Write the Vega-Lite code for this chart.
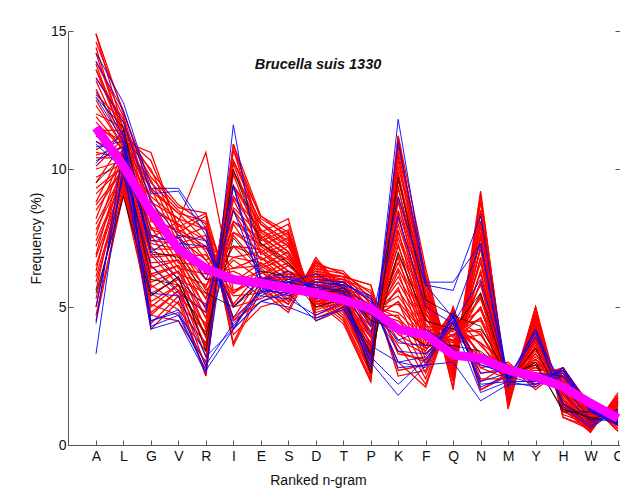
{
  "$schema": "https://vega.github.io/schema/vega-lite/v6.json",
  "width": 552,
  "height": 414,
  "autosize": "none",
  "padding": {"left": 68, "top": 31, "right": 0, "bottom": 44},
  "background": "white",
  "title": {"text": "Brucella suis 1330", "font": "Liberation Sans", "fontSize": 14.5, "fontStyle": "italic", "fontWeight": "bold", "color": "#111", "offset": -48, "dx": -26},
  "config": {
    "view": {"stroke": null},
    "axis": {"labelFont": "Liberation Sans", "titleFont": "Liberation Sans", "labelFontSize": 14, "titleFontSize": 14, "titleFontWeight": "normal", "labelColor": "#111", "titleColor": "#111", "domainColor": "#555", "tickColor": "#555", "grid": false}
  },
  "data": {"values": [
    {"id":"r0a","g":"red","A":14.9,"L":12.0,"G":9.5,"V":8.5,"R":7.8,"I":4.0,"E":5.0,"S":5.3,"D":6.2,"T":6.1,"P":5.8,"K":2.5,"F":2.7,"Q":4.7,"N":2.3,"M":2.9,"Y":2.0,"H":2.8,"W":1.4,"C":0.7},
    {"id":"r0b","g":"red","A":14.2,"L":11.2,"G":10.3,"V":7.9,"R":8.4,"I":3.6,"E":5.6,"S":4.8,"D":6.7,"T":5.7,"P":5.3,"K":3.0,"F":2.1,"Q":5.0,"N":2.0,"M":2.6,"Y":2.3,"H":2.6,"W":1.5,"C":0.5},
    {"id":"r0c","g":"red","A":13.6,"L":11.5,"G":9.9,"V":8.7,"R":8.0,"I":4.5,"E":5.6,"S":5.1,"D":6.6,"T":6.2,"P":5.5,"K":3.4,"F":3.0,"Q":4.9,"N":2.6,"M":2.8,"Y":2.2,"H":2.7,"W":1.45,"C":0.6},
    {"id":"r1a","g":"red","A":14.6,"L":12.1,"G":9.2,"V":8.4,"R":7.4,"I":4.5,"E":5.2,"S":5.6,"D":6.1,"T":6.1,"P":5.8,"K":2.7,"F":2.9,"Q":4.5,"N":2.8,"M":3.0,"Y":2.1,"H":2.8,"W":1.3,"C":0.8},
    {"id":"r1b","g":"red","A":13.6,"L":11.1,"G":10.0,"V":7.7,"R":8.3,"I":3.7,"E":5.8,"S":4.9,"D":6.8,"T":5.6,"P":5.1,"K":3.6,"F":2.2,"Q":5.0,"N":2.0,"M":2.5,"Y":2.6,"H":2.5,"W":1.5,"C":0.5},
    {"id":"r1c","g":"red","A":14.9,"L":11.4,"G":9.7,"V":8.6,"R":8.4,"I":5.0,"E":6.0,"S":5.3,"D":6.5,"T":6.3,"P":5.3,"K":4.0,"F":3.4,"Q":4.9,"N":3.1,"M":2.7,"Y":2.5,"H":2.8,"W":1.4,"C":0.7},
    {"id":"r2a","g":"red","A":13.9,"L":11.9,"G":8.8,"V":8.2,"R":7.0,"I":5.0,"E":5.3,"S":5.8,"D":6.0,"T":6.0,"P":5.6,"K":3.3,"F":3.1,"Q":4.4,"N":3.3,"M":2.9,"Y":2.3,"H":2.8,"W":1.3,"C":0.85},
    {"id":"r2b","g":"red","A":12.9,"L":10.9,"G":9.6,"V":7.5,"R":7.9,"I":4.2,"E":5.9,"S":5.1,"D":6.7,"T":5.5,"P":4.9,"K":4.2,"F":2.4,"Q":4.9,"N":2.4,"M":2.4,"Y":2.8,"H":2.4,"W":1.5,"C":0.6},
    {"id":"r2c","g":"red","A":14.4,"L":11.2,"G":9.3,"V":8.4,"R":8.1,"I":5.5,"E":6.1,"S":5.5,"D":6.4,"T":6.2,"P":5.1,"K":4.6,"F":3.6,"Q":4.8,"N":3.6,"M":2.6,"Y":2.7,"H":2.7,"W":1.3,"C":0.8},
    {"id":"r3a","g":"red","A":13.3,"L":11.8,"G":8.5,"V":8.0,"R":6.7,"I":5.4,"E":5.5,"S":5.9,"D":5.9,"T":6.0,"P":5.4,"K":3.8,"F":3.3,"Q":4.2,"N":3.7,"M":2.9,"Y":2.4,"H":2.7,"W":1.2,"C":0.9},
    {"id":"r3b","g":"red","A":12.3,"L":10.8,"G":9.3,"V":7.3,"R":7.6,"I":4.6,"E":6.1,"S":5.2,"D":6.6,"T":5.5,"P":4.7,"K":4.7,"F":2.6,"Q":4.7,"N":2.8,"M":2.4,"Y":2.9,"H":2.3,"W":1.4,"C":0.7},
    {"id":"r3c","g":"red","A":13.8,"L":11.1,"G":9.0,"V":8.2,"R":7.8,"I":5.9,"E":6.3,"S":5.6,"D":6.3,"T":6.1,"P":4.9,"K":5.1,"F":3.8,"Q":4.6,"N":4.0,"M":2.6,"Y":2.9,"H":2.6,"W":1.25,"C":0.9},
    {"id":"r4a","g":"red","A":12.7,"L":11.7,"G":8.1,"V":7.8,"R":6.3,"I":5.9,"E":5.7,"S":6.1,"D":5.8,"T":5.9,"P":5.2,"K":4.3,"F":3.6,"Q":4.0,"N":4.2,"M":2.8,"Y":2.6,"H":2.6,"W":1.15,"C":1.0},
    {"id":"r4b","g":"red","A":11.7,"L":10.7,"G":8.9,"V":7.1,"R":7.2,"I":5.1,"E":6.3,"S":5.4,"D":6.5,"T":5.4,"P":4.5,"K":5.2,"F":2.9,"Q":4.5,"N":3.3,"M":2.3,"Y":3.1,"H":2.2,"W":1.35,"C":0.75},
    {"id":"r4c","g":"red","A":13.2,"L":11.0,"G":8.6,"V":8.0,"R":7.4,"I":6.4,"E":6.5,"S":5.8,"D":6.2,"T":6.0,"P":4.7,"K":5.6,"F":4.1,"Q":4.4,"N":4.5,"M":2.5,"Y":3.1,"H":2.5,"W":1.2,"C":0.95},
    {"id":"r5a","g":"red","A":12.0,"L":11.5,"G":7.8,"V":7.5,"R":6.0,"I":6.3,"E":5.8,"S":6.3,"D":5.7,"T":5.8,"P":5.0,"K":4.8,"F":3.8,"Q":3.8,"N":4.6,"M":2.7,"Y":2.8,"H":2.5,"W":1.1,"C":1.1},
    {"id":"r5b","g":"red","A":11.0,"L":10.5,"G":8.6,"V":6.8,"R":6.9,"I":5.5,"E":6.4,"S":5.6,"D":6.4,"T":5.3,"P":4.3,"K":5.7,"F":3.1,"Q":4.3,"N":3.7,"M":2.2,"Y":3.3,"H":2.1,"W":1.3,"C":0.8},
    {"id":"r5c","g":"red","A":12.5,"L":10.8,"G":8.3,"V":7.7,"R":7.1,"I":6.8,"E":6.6,"S":6.0,"D":6.1,"T":5.9,"P":4.5,"K":6.1,"F":4.3,"Q":4.2,"N":4.9,"M":2.4,"Y":3.2,"H":2.4,"W":1.15,"C":1.0},
    {"id":"r6a","g":"red","A":11.4,"L":11.4,"G":7.4,"V":7.3,"R":5.6,"I":6.7,"E":6.0,"S":6.5,"D":5.6,"T":5.7,"P":4.8,"K":5.4,"F":4.0,"Q":3.7,"N":5.0,"M":2.6,"Y":3.0,"H":2.4,"W":1.0,"C":1.15},
    {"id":"r6b","g":"red","A":10.4,"L":10.4,"G":8.2,"V":6.6,"R":6.5,"I":5.9,"E":6.6,"S":5.8,"D":6.3,"T":5.2,"P":4.1,"K":6.3,"F":3.3,"Q":4.2,"N":4.1,"M":2.1,"Y":3.5,"H":2.0,"W":1.2,"C":0.9},
    {"id":"r6c","g":"red","A":11.9,"L":10.7,"G":7.9,"V":7.5,"R":6.7,"I":7.2,"E":6.8,"S":6.2,"D":6.0,"T":5.9,"P":4.3,"K":6.6,"F":4.5,"Q":4.1,"N":5.3,"M":2.3,"Y":3.4,"H":2.3,"W":1.1,"C":1.1},
    {"id":"r7a","g":"red","A":10.7,"L":11.2,"G":7.1,"V":7.1,"R":5.3,"I":7.2,"E":6.2,"S":6.6,"D":5.5,"T":5.6,"P":4.6,"K":5.9,"F":4.2,"Q":3.5,"N":5.5,"M":2.5,"Y":3.1,"H":2.3,"W":0.95,"C":1.2},
    {"id":"r7b","g":"red","A":9.7,"L":10.2,"G":7.9,"V":6.4,"R":6.2,"I":6.4,"E":6.8,"S":5.9,"D":6.2,"T":5.1,"P":3.9,"K":6.8,"F":3.5,"Q":4.0,"N":4.6,"M":2.0,"Y":3.6,"H":1.9,"W":1.15,"C":1.0},
    {"id":"r7c","g":"red","A":11.2,"L":10.5,"G":7.6,"V":7.3,"R":6.4,"I":7.7,"E":7.0,"S":6.3,"D":5.9,"T":5.8,"P":4.1,"K":7.2,"F":4.7,"Q":3.9,"N":5.8,"M":2.2,"Y":3.6,"H":2.2,"W":1.0,"C":1.2},
    {"id":"r8a","g":"red","A":10.1,"L":11.1,"G":6.8,"V":6.9,"R":4.9,"I":7.6,"E":6.4,"S":6.8,"D":5.4,"T":5.6,"P":4.4,"K":6.4,"F":4.4,"Q":3.3,"N":5.9,"M":2.5,"Y":3.3,"H":2.2,"W":0.9,"C":1.3},
    {"id":"r8b","g":"red","A":9.1,"L":10.1,"G":7.6,"V":6.2,"R":5.8,"I":6.8,"E":7.0,"S":6.1,"D":6.1,"T":5.1,"P":3.7,"K":7.3,"F":3.7,"Q":3.8,"N":5.0,"M":1.9,"Y":3.8,"H":1.8,"W":1.1,"C":1.05},
    {"id":"r8c","g":"red","A":10.6,"L":10.4,"G":7.3,"V":7.1,"R":6.0,"I":8.1,"E":7.2,"S":6.5,"D":5.8,"T":5.7,"P":3.9,"K":7.7,"F":4.9,"Q":3.7,"N":6.2,"M":2.2,"Y":3.8,"H":2.1,"W":0.95,"C":1.25},
    {"id":"r9a","g":"red","A":9.5,"L":11.0,"G":6.4,"V":6.7,"R":4.6,"I":8.0,"E":6.5,"S":7.0,"D":5.2,"T":5.5,"P":4.1,"K":6.9,"F":4.6,"Q":3.1,"N":6.3,"M":2.4,"Y":3.5,"H":2.0,"W":0.85,"C":1.4},
    {"id":"r9b","g":"red","A":8.5,"L":10.0,"G":7.2,"V":6.0,"R":5.5,"I":7.2,"E":7.1,"S":6.3,"D":5.9,"T":5.0,"P":3.4,"K":7.8,"F":3.9,"Q":3.6,"N":5.4,"M":1.9,"Y":4.0,"H":1.6,"W":1.05,"C":1.1},
    {"id":"r9c","g":"red","A":10.0,"L":10.3,"G":6.9,"V":6.9,"R":5.7,"I":8.5,"E":7.3,"S":6.7,"D":5.6,"T":5.6,"P":3.6,"K":8.2,"F":5.1,"Q":3.5,"N":6.6,"M":2.1,"Y":3.9,"H":1.9,"W":0.9,"C":1.3},
    {"id":"r10a","g":"red","A":8.8,"L":10.8,"G":6.1,"V":6.5,"R":4.2,"I":8.5,"E":6.7,"S":7.2,"D":5.1,"T":5.4,"P":3.9,"K":7.5,"F":4.8,"Q":3.0,"N":6.8,"M":2.3,"Y":3.7,"H":1.9,"W":0.8,"C":1.45},
    {"id":"r10b","g":"red","A":7.8,"L":9.8,"G":6.9,"V":5.8,"R":5.1,"I":7.7,"E":7.3,"S":6.5,"D":5.8,"T":4.9,"P":3.2,"K":8.4,"F":4.1,"Q":3.5,"N":5.9,"M":1.8,"Y":4.2,"H":1.5,"W":1.0,"C":1.2},
    {"id":"r10c","g":"red","A":9.3,"L":10.1,"G":6.6,"V":6.7,"R":5.3,"I":9.0,"E":7.5,"S":6.9,"D":5.5,"T":5.5,"P":3.4,"K":8.8,"F":5.3,"Q":3.4,"N":7.1,"M":2.0,"Y":4.1,"H":1.8,"W":0.85,"C":1.4},
    {"id":"r11a","g":"red","A":8.2,"L":10.7,"G":5.7,"V":6.3,"R":3.9,"I":8.9,"E":6.9,"S":7.3,"D":5.0,"T":5.3,"P":3.7,"K":8.0,"F":5.0,"Q":2.8,"N":7.2,"M":2.2,"Y":3.8,"H":1.8,"W":0.7,"C":1.5},
    {"id":"r11b","g":"red","A":7.2,"L":9.7,"G":6.5,"V":5.6,"R":4.8,"I":8.1,"E":7.5,"S":6.6,"D":5.7,"T":4.8,"P":3.0,"K":8.9,"F":4.3,"Q":3.3,"N":6.3,"M":1.7,"Y":4.3,"H":1.4,"W":0.9,"C":1.3},
    {"id":"r11c","g":"red","A":8.7,"L":10.0,"G":6.2,"V":6.5,"R":5.0,"I":9.4,"E":7.7,"S":7.0,"D":5.4,"T":5.5,"P":3.2,"K":9.3,"F":5.5,"Q":3.2,"N":7.5,"M":1.9,"Y":4.3,"H":1.7,"W":0.75,"C":1.5},
    {"id":"r12a","g":"red","A":7.6,"L":10.6,"G":5.4,"V":6.1,"R":3.5,"I":9.4,"E":7.0,"S":7.5,"D":4.9,"T":5.2,"P":3.5,"K":8.5,"F":5.3,"Q":2.6,"N":7.7,"M":2.1,"Y":4.0,"H":1.7,"W":0.65,"C":1.6},
    {"id":"r12b","g":"red","A":6.5,"L":9.6,"G":6.2,"V":5.4,"R":4.4,"I":8.6,"E":7.6,"S":6.8,"D":5.6,"T":4.7,"P":2.8,"K":9.4,"F":4.6,"Q":3.1,"N":6.8,"M":1.6,"Y":4.5,"H":1.3,"W":0.85,"C":1.35},
    {"id":"r12c","g":"red","A":8.0,"L":9.9,"G":5.9,"V":6.3,"R":4.6,"I":9.9,"E":7.8,"S":7.2,"D":5.3,"T":5.4,"P":3.0,"K":9.8,"F":5.7,"Q":3.0,"N":7.9,"M":1.8,"Y":4.4,"H":1.6,"W":0.7,"C":1.55},
    {"id":"r13a","g":"red","A":6.9,"L":10.4,"G":5.0,"V":5.8,"R":3.2,"I":9.8,"E":7.2,"S":7.7,"D":4.8,"T":5.1,"P":3.3,"K":9.0,"F":5.5,"Q":2.4,"N":8.1,"M":2.0,"Y":4.2,"H":1.6,"W":0.6,"C":1.7},
    {"id":"r13b","g":"red","A":5.9,"L":9.4,"G":5.8,"V":5.1,"R":4.1,"I":9.0,"E":7.8,"S":7.0,"D":5.5,"T":4.6,"P":2.6,"K":9.9,"F":4.8,"Q":2.9,"N":7.2,"M":1.5,"Y":4.7,"H":1.2,"W":0.8,"C":1.45},
    {"id":"r13c","g":"red","A":7.4,"L":9.7,"G":5.5,"V":6.0,"R":4.3,"I":10.3,"E":8.0,"S":7.4,"D":5.2,"T":5.3,"P":2.8,"K":10.3,"F":6.0,"Q":2.8,"N":8.4,"M":1.7,"Y":4.6,"H":1.5,"W":0.65,"C":1.6},
    {"id":"r14a","g":"red","A":6.3,"L":10.3,"G":4.7,"V":5.6,"R":2.8,"I":10.2,"E":7.4,"S":7.8,"D":4.7,"T":5.1,"P":3.1,"K":9.6,"F":5.7,"Q":2.3,"N":8.5,"M":2.0,"Y":4.4,"H":1.5,"W":0.55,"C":1.75},
    {"id":"r14b","g":"red","A":5.3,"L":9.3,"G":5.5,"V":4.9,"R":3.7,"I":9.4,"E":8.0,"S":7.2,"D":5.4,"T":4.6,"P":2.4,"K":10.5,"F":5.0,"Q":2.8,"N":7.6,"M":1.5,"Y":4.8,"H":1.1,"W":0.75,"C":1.5},
    {"id":"r14c","g":"red","A":6.8,"L":9.6,"G":5.2,"V":5.8,"R":3.9,"I":10.7,"E":8.2,"S":7.6,"D":5.1,"T":5.2,"P":2.6,"K":10.8,"F":6.2,"Q":2.7,"N":8.8,"M":1.7,"Y":4.8,"H":1.4,"W":0.6,"C":1.7},
    {"id":"r15a","g":"red","A":5.6,"L":10.1,"G":4.4,"V":5.4,"R":2.5,"I":10.7,"E":7.5,"S":8.0,"D":4.6,"T":5.0,"P":2.9,"K":10.1,"F":5.9,"Q":2.1,"N":9.0,"M":1.9,"Y":4.5,"H":1.4,"W":0.5,"C":1.8},
    {"id":"r15b","g":"red","A":4.7,"L":9.2,"G":5.1,"V":4.7,"R":3.4,"I":9.9,"E":8.1,"S":7.3,"D":5.3,"T":4.5,"P":2.3,"K":11.0,"F":5.2,"Q":2.6,"N":8.1,"M":1.4,"Y":5.0,"H":1.0,"W":0.65,"C":1.6},
    {"id":"r15c","g":"red","A":6.1,"L":9.5,"G":4.8,"V":5.6,"R":3.6,"I":10.9,"E":8.3,"S":7.7,"D":5.0,"T":5.1,"P":2.5,"K":11.2,"F":6.4,"Q":2.5,"N":9.2,"M":1.6,"Y":5.0,"H":1.3,"W":0.5,"C":1.8},
    {"id":"r16a","g":"red","A":5.0,"L":9.9,"G":4.2,"V":5.2,"R":2.5,"I":10.9,"E":7.7,"S":8.2,"D":4.5,"T":4.9,"P":2.7,"K":10.6,"F":6.1,"Q":2.0,"N":9.1,"M":1.8,"Y":4.7,"H":1.3,"W":0.45,"C":1.9},
    {"id":"r16b","g":"red","A":4.5,"L":9.1,"G":4.7,"V":4.5,"R":3.0,"I":10.3,"E":8.3,"S":7.5,"D":5.2,"T":4.4,"P":2.3,"K":11.2,"F":5.4,"Q":2.4,"N":8.5,"M":1.3,"Y":5.0,"H":1.0,"W":0.55,"C":1.65},
    {"id":"rx1","g":"red","A":11.5,"L":11.0,"G":10.6,"V":7.8,"R":7.2,"I":5.0,"E":6.0,"S":6.0,"D":5.8,"T":5.5,"P":4.8,"K":4.5,"F":3.5,"Q":4.0,"N":3.2,"M":2.5,"Y":2.6,"H":2.3,"W":1.2,"C":0.9},
    {"id":"rx2","g":"red","A":10.5,"L":10.8,"G":7.5,"V":8.1,"R":10.6,"I":5.6,"E":6.0,"S":6.2,"D":5.6,"T":5.5,"P":4.5,"K":5.2,"F":4.0,"Q":3.8,"N":4.0,"M":2.4,"Y":3.0,"H":2.2,"W":1.1,"C":1.0},
    {"id":"k1","g":"black","A":5.5,"L":9.0,"G":5.4,"V":6.1,"R":3.4,"I":10.0,"E":7.3,"S":6.6,"D":5.5,"T":5.6,"P":2.6,"K":9.7,"F":5.25,"Q":4.7,"N":4.3,"M":2.4,"Y":3.0,"H":1.2,"W":1.2,"C":1.1},
    {"id":"k2","g":"black","A":12.6,"L":11.5,"G":7.0,"V":6.8,"R":5.5,"I":5.0,"E":5.8,"S":5.9,"D":5.4,"T":5.7,"P":4.5,"K":4.2,"F":3.6,"Q":3.6,"N":3.4,"M":2.6,"Y":2.9,"H":1.3,"W":1.0,"C":0.8},
    {"id":"k3","g":"black","A":9.5,"L":10.5,"G":6.0,"V":5.8,"R":4.0,"I":7.5,"E":6.3,"S":6.1,"D":5.0,"T":5.3,"P":3.3,"K":7.0,"F":4.5,"Q":4.2,"N":5.5,"M":2.3,"Y":3.5,"H":1.5,"W":0.9,"C":1.3},
    {"id":"b1","g":"blue","A":14.2,"L":12.4,"G":9.3,"V":9.3,"R":7.85,"I":4.3,"E":5.6,"S":5.5,"D":6.0,"T":5.9,"P":5.2,"K":3.0,"F":3.2,"Q":4.6,"N":2.3,"M":2.6,"Y":2.3,"H":2.7,"W":1.3,"C":0.8},
    {"id":"b2","g":"blue","A":13.9,"L":12.1,"G":9.1,"V":9.2,"R":7.6,"I":4.2,"E":5.7,"S":5.4,"D":5.9,"T":5.8,"P":5.4,"K":2.8,"F":2.9,"Q":4.8,"N":2.1,"M":2.5,"Y":2.2,"H":2.8,"W":1.35,"C":0.75},
    {"id":"b3","g":"blue","A":13.3,"L":11.7,"G":8.8,"V":7.6,"R":7.4,"I":4.6,"E":5.5,"S":5.9,"D":6.2,"T":5.7,"P":5.0,"K":3.4,"F":3.3,"Q":4.4,"N":2.6,"M":2.7,"Y":2.5,"H":2.6,"W":1.2,"C":0.9},
    {"id":"b4","g":"blue","A":12.8,"L":11.2,"G":7.6,"V":7.3,"R":7.2,"I":5.0,"E":6.0,"S":6.1,"D":5.7,"T":5.9,"P":5.3,"K":3.7,"F":3.6,"Q":4.5,"N":2.9,"M":2.6,"Y":2.6,"H":2.5,"W":1.25,"C":0.85},
    {"id":"b5","g":"blue","A":11.0,"L":10.3,"G":7.4,"V":7.5,"R":6.0,"I":5.9,"E":5.7,"S":5.6,"D":5.4,"T":5.2,"P":4.7,"K":4.1,"F":3.9,"Q":3.3,"N":3.0,"M":2.7,"Y":2.4,"H":2.1,"W":1.5,"C":1.0},
    {"id":"b6","g":"blue","A":10.3,"L":10.8,"G":7.0,"V":7.6,"R":6.2,"I":6.1,"E":5.4,"S":5.9,"D":5.3,"T":5.5,"P":4.9,"K":3.8,"F":4.2,"Q":3.5,"N":2.9,"M":2.6,"Y":2.6,"H":2.0,"W":1.4,"C":1.1},
    {"id":"b7","g":"blue","A":4.4,"L":10.8,"G":4.5,"V":4.8,"R":2.7,"I":9.4,"E":5.6,"S":6.0,"D":5.8,"T":5.5,"P":3.0,"K":11.0,"F":5.8,"Q":5.6,"N":8.3,"M":2.3,"Y":4.2,"H":1.5,"W":0.7,"C":1.2},
    {"id":"b8","g":"blue","A":3.3,"L":10.2,"G":4.2,"V":4.5,"R":2.6,"I":11.6,"E":6.0,"S":6.3,"D":5.5,"T":5.2,"P":2.8,"K":11.8,"F":5.9,"Q":5.9,"N":7.3,"M":2.1,"Y":4.1,"H":1.4,"W":0.6,"C":1.3},
    {"id":"b9","g":"blue","A":10.2,"L":11.4,"G":4.3,"V":4.7,"R":2.7,"I":4.2,"E":5.2,"S":5.5,"D":4.5,"T":5.0,"P":3.0,"K":1.8,"F":2.9,"Q":3.0,"N":1.6,"M":2.2,"Y":2.2,"H":2.5,"W":1.3,"C":0.7},
    {"id":"b10","g":"blue","A":10.8,"L":11.0,"G":4.5,"V":4.9,"R":2.9,"I":4.4,"E":5.4,"S":5.3,"D":4.7,"T":5.2,"P":3.2,"K":2.2,"F":3.1,"Q":4.4,"N":1.9,"M":2.3,"Y":2.3,"H":2.7,"W":1.2,"C":0.75},
    {"id":"b11","g":"blue","A":10.9,"L":10.0,"G":6.5,"V":5.5,"R":4.8,"I":9.4,"E":6.0,"S":5.8,"D":5.6,"T":5.8,"P":4.3,"K":9.0,"F":5.8,"Q":4.6,"N":7.3,"M":2.4,"Y":4.2,"H":1.9,"W":0.8,"C":1.2},
    {"id":"b12","g":"blue","A":12.6,"L":11.0,"G":7.0,"V":6.0,"R":5.0,"I":8.5,"E":6.0,"S":5.9,"D":5.7,"T":5.6,"P":4.0,"K":8.3,"F":5.0,"Q":4.4,"N":6.0,"M":2.5,"Y":3.9,"H":2.2,"W":0.9,"C":1.0},
    {"id":"b13","g":"blue","A":5.0,"L":9.8,"G":5.5,"V":5.4,"R":3.2,"I":4.2,"E":5.2,"S":5.0,"D":4.6,"T":4.9,"P":3.6,"K":3.0,"F":2.8,"Q":4.7,"N":2.2,"M":2.3,"Y":2.1,"H":2.8,"W":1.2,"C":0.9},
    {"id":"mean","g":"magenta","A":11.5,"L":10.1,"G":8.45,"V":7.1,"R":6.4,"I":6.0,"E":5.86,"S":5.68,"D":5.5,"T":5.25,"P":4.95,"K":4.2,"F":3.99,"Q":3.26,"N":3.14,"M":2.72,"Y":2.47,"H":2.11,"W":1.51,"C":0.97}
  ]},
  "transform": [
    {"fold": ["A","L","G","V","R","I","E","S","D","T","P","K","F","Q","N","M","Y","H","W","C"], "as": ["aa","freq"]}
  ],
  "encoding": {
    "x": {
      "field": "aa", "type": "nominal",
      "scale": {"type": "point", "domain": ["A","L","G","V","R","I","E","S","D","T","P","K","F","Q","N","M","Y","H","W","C"], "padding": 0.546, "align": 0.933},
      "axis": {"title": "Ranked n-gram", "titleX": 250, "titlePadding": 10, "labelAngle": 0, "tickSize": -5, "labelPadding": 9, "domain": true}
    },
    "detail": {"field": "id"},
    "order": {"value": null}
  },
  "layer": [
    {
      "transform": [{"filter": "datum.g === 'red'"}],
      "mark": {"type": "line", "color": "#ff0000", "strokeWidth": 1.25},
      "encoding": {
        "y": {"field": "freq", "type": "quantitative", "scale": {"domain": [0, 15], "nice": false, "zero": true},
          "axis": {"orient": "left", "values": [0, 5, 10, 15], "tickSize": -5, "labelPadding": 7, "title": "Frequency (%)", "titlePadding": 7}}
      }
    },
    {
      "transform": [{"filter": "datum.g === 'black'"}],
      "mark": {"type": "line", "color": "#000000", "strokeWidth": 0.8},
      "encoding": {"y": {"field": "freq", "type": "quantitative", "axis": null}}
    },
    {
      "transform": [{"filter": "datum.g === 'blue'"}],
      "mark": {"type": "line", "color": "#0000ff", "strokeWidth": 0.9},
      "encoding": {"y": {"field": "freq", "type": "quantitative", "axis": null}}
    },
    {
      "transform": [{"filter": "datum.g === 'magenta'"}],
      "mark": {"type": "line", "color": "#ff00ff", "strokeWidth": 9},
      "encoding": {"y": {"field": "freq", "type": "quantitative",
        "axis": {"orient": "right", "values": [0, 5, 10, 15], "tickSize": -5, "labels": false, "domain": false, "title": null}}}
    }
  ],
  "resolve": {"axis": {"y": "independent"}}
}
